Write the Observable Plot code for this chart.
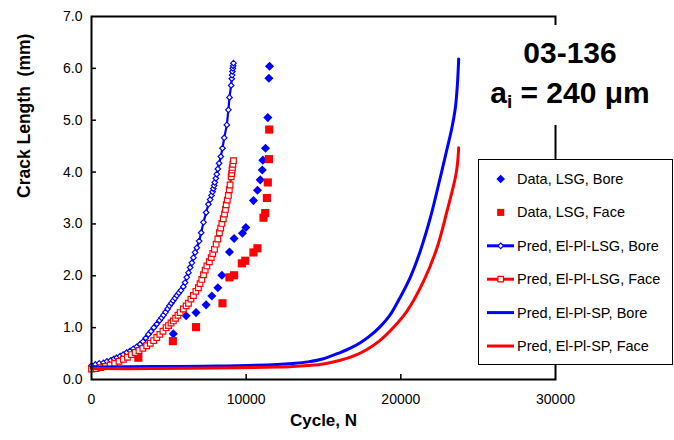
<!DOCTYPE html>
<html><head><meta charset="utf-8">
<script src="https://cdn.jsdelivr.net/npm/d3@7"></script>
<script src="https://cdn.jsdelivr.net/npm/@observablehq/plot@0.6"></script>
<style>
body{margin:0;background:#fff;}
#wrap{position:relative;width:674px;height:440px;font-family:"Liberation Sans",Arial,sans-serif;overflow:hidden;}
#wrap svg text{white-space:pre;}
#title{position:absolute;left:485px;top:25px;width:170px;height:92px;padding-top:8px;background:#fff;text-align:center;font-weight:bold;font-size:30px;line-height:40px;color:#000;}
#title sub{font-size:19px;vertical-align:-5px;line-height:0;}
#legend{position:absolute;left:478px;top:159px;}
</style></head><body>
<div id="wrap"><div id="chart"></div>
<div id="title">03-136<br>a<sub>i</sub> = 240 μm</div>
<div id="legend"></div></div>
<script>
// ---- data (cycles N, crack length mm) ----
const xTicks = [0, 10000, 20000, 30000];
const yTicks = [0, 1, 2, 3, 4, 5, 6, 7];

const dataLsgBore = [[5290,0.88],[6120,1.23],[6760,1.29],[7410,1.44],[7780,1.61],[8170,1.77],[8430,2.01],[8920,2.46],[9220,2.72],[9760,2.82],[9980,2.93],[10470,3.45],[10730,3.65],[10910,3.85],[11040,4.04],[11080,4.23],[11250,4.46],[11400,5.05],[11470,5.81],[11510,6.04]];
const dataLsgFace = [[3030,0.42],[5260,0.74],[6760,1.01],[8470,1.47],[8920,1.97],[9220,2.01],[9720,2.24],[9940,2.29],[10470,2.45],[10730,2.53],[11120,3.12],[11230,3.21],[11340,3.50],[11400,3.80],[11470,4.25],[11490,4.82]];

const predLsgBore = [[0,0.27],[250,0.29],[500,0.31],[770,0.32],[1000,0.35],[1250,0.37],[1450,0.40],[1630,0.42],[1850,0.45],[2050,0.48],[2270,0.52],[2490,0.55],[2700,0.59],[2920,0.63],[3140,0.68],[3330,0.73],[3510,0.80],[3680,0.87],[3850,0.93],[4030,1.00],[4220,1.07],[4400,1.14],[4530,1.19],[4650,1.24],[4790,1.30],[4920,1.36],[5040,1.42],[5160,1.47],[5280,1.52],[5400,1.57],[5520,1.62],[5650,1.67],[5780,1.72],[5940,1.79],[6050,1.87],[6160,1.97],[6270,2.06],[6380,2.16],[6490,2.25],[6590,2.35],[6700,2.45],[6810,2.54],[6960,2.67],[7090,2.83],[7240,3.03],[7410,3.22],[7560,3.38],[7670,3.47],[7760,3.55],[7830,3.62],[7880,3.68],[7930,3.74],[7970,3.80],[8040,3.88],[8100,3.96],[8170,4.06],[8250,4.17],[8360,4.30],[8470,4.46],[8580,4.66],[8750,4.91],[8850,5.20],[8920,5.44],[9030,5.67],[9070,5.80],[9090,5.87],[9110,5.94],[9140,6.00],[9160,6.05],[9180,6.10]];
const predLsgFace = [[0,0.20],[300,0.21],[600,0.23],[900,0.25],[1200,0.28],[1500,0.31],[1780,0.35],[2060,0.39],[2320,0.43],[2580,0.48],[2820,0.52],[3070,0.56],[3320,0.60],[3570,0.65],[3800,0.70],[4020,0.75],[4220,0.81],[4420,0.87],[4620,0.93],[4820,1.00],[4980,1.04],[5140,1.09],[5290,1.13],[5440,1.18],[5590,1.24],[5730,1.29],[5940,1.36],[6120,1.42],[6270,1.47],[6430,1.55],[6590,1.62],[6750,1.70],[6910,1.77],[7020,1.85],[7130,1.93],[7240,2.02],[7350,2.11],[7460,2.19],[7620,2.27],[7740,2.35],[7840,2.43],[7950,2.51],[8060,2.61],[8170,2.71],[8270,2.83],[8350,2.92],[8430,3.01],[8520,3.10],[8600,3.19],[8660,3.28],[8710,3.37],[8780,3.46],[8850,3.55],[8910,3.66],[8960,3.75],[9030,3.91],[9070,3.97],[9090,4.04],[9110,4.09],[9140,4.15],[9180,4.22]];

const predSpBore = [[0,0.24],[4000,0.25],[8000,0.26],[12000,0.29],[13000,0.31],[14000,0.34],[15000,0.40],[16080,0.52],[16700,0.60],[17380,0.71],[18000,0.84],[18670,1.02],[19250,1.22],[19750,1.47],[20610,1.97],[21260,2.48],[21910,3.12],[22450,3.77],[22990,4.45],[23300,4.85],[23530,5.25],[23660,5.70],[23740,6.18]];
const predSpFace = [[0,0.21],[4000,0.21],[8000,0.22],[12000,0.24],[13000,0.25],[14000,0.27],[15000,0.30],[16080,0.37],[17000,0.46],[17810,0.58],[18600,0.74],[19320,0.94],[20400,1.32],[21480,1.90],[22340,2.54],[22990,3.25],[23530,3.90],[23660,4.15],[23740,4.47]];

const legendLabels = ["Data, LSG, Bore","Data, LSG, Face","Pred, El-Pl-LSG, Bore","Pred, El-Pl-LSG, Face","Pred, El-Pl-SP, Bore","Pred, El-Pl-SP, Face"];
const legendColors = ["#0000ff","#ff0000","#0000ff","#ff0000","#0000ff","#ff0000"];
const legendSymbols = ["diamond","square","odiamond","osquare",null,null];
const legendLines = [false,false,true,true,true,true];

const BLUE = "#0000ff", RED = "#ff0000";
const X = d => d[0], Y = d => d[1];

const chart = Plot.plot({
  width: 674, height: 440,
  marginLeft: 91, marginRight: 119, marginTop: 16, marginBottom: 61,
  style: {fontFamily: "Liberation Sans, Arial, sans-serif", fontSize: "14px", color: "black", background: "white", overflow: "visible"},
  x: {domain: [0, 30000]},
  y: {domain: [0, 7]},
  marks: [
    Plot.axisX(xTicks, {tickSize: 0, tickPadding: 15, tickFormat: d3.format("d"), label: null}),
    Plot.axisY(yTicks, {tickSize: 0, tickPadding: 9, tickFormat: d3.format(".1f"), label: null}),
    Plot.tickX(xTicks.slice(1, -1), {x: d => d, insetTop: 358, stroke: "black", strokeWidth: 1.5}),
    Plot.tickY(yTicks.slice(1, -1), {y: d => d, insetRight: 459, stroke: "black", strokeWidth: 1.5}),
    Plot.dot(dataLsgBore, {x: X, y: Y, symbol: "diamond2", r: 4.1, fill: BLUE}),
    Plot.dot(dataLsgFace, {x: X, y: Y, symbol: "square", r: 4.6, fill: RED}),
    Plot.line(predLsgBore, {x: X, y: Y, stroke: BLUE, strokeWidth: 2.2}),
    Plot.dot(predLsgBore, {x: X, y: Y, symbol: "diamond2", r: 2.5, fill: "white", stroke: BLUE, strokeWidth: 1.2}),
    Plot.line(predLsgFace, {x: X, y: Y, stroke: RED, strokeWidth: 2.2}),
    Plot.dot(predLsgFace, {x: X, y: Y, symbol: "square", r: 3.2, fill: "white", stroke: RED, strokeWidth: 1.2}),
    Plot.line(predSpBore, {x: X, y: Y, stroke: BLUE, strokeWidth: 3, curve: "catmull-rom"}),
    Plot.line(predSpFace, {x: X, y: Y, stroke: RED, strokeWidth: 3, curve: "catmull-rom"}),
    Plot.frame({stroke: "black", strokeWidth: 2}),
    Plot.text(["Cycle, N"], {text: d => d, frameAnchor: "bottom", dy: 46, fontWeight: "bold", fontSize: 17}),
    Plot.text(["Crack Length  (mm)"], {text: d => d, frameAnchor: "left", dx: -67, rotate: -90, fontWeight: "bold", fontSize: 17.5})
  ]
});
document.getElementById("chart").appendChild(chart);

// legend
const lw = 195, lh = 206;
const lg = d3.select("#legend").append("svg").attr("width", lw).attr("height", lh)
  .style("font-family", "Liberation Sans, Arial, sans-serif");
lg.append("rect").attr("x", 0.5).attr("y", 0.5).attr("width", lw - 1).attr("height", lh - 1)
  .attr("fill", "white").attr("stroke", "black").attr("stroke-width", 1);
legendLabels.forEach((lab, i) => {
  const y = 20 + i * 33.4;
  const g = lg.append("g").attr("transform", `translate(0,${y})`);
  const c = legendColors[i];
  if (legendLines[i]) g.append("line").attr("x1", 9).attr("x2", 36).attr("y1", 0).attr("y2", 0)
    .attr("stroke", c).attr("stroke-width", 3);
  const s = legendSymbols[i];
  if (s) {
    const isD = s.includes("diamond");
    const open = s.startsWith("o");
    const size = open ? (isD ? 20 : 30) : (isD ? 48 : 50);
    g.append("path").attr("transform", "translate(22.7,0)")
      .attr("d", d3.symbol(isD ? d3.symbolDiamond2 : d3.symbolSquare, size)())
      .attr("fill", open ? "white" : c).attr("stroke", open ? c : "none").attr("stroke-width", 1.2);
  }
  g.append("text").attr("x", 39).attr("dy", "0.35em").attr("font-size", 14.5).text(lab);
});
</script>
</body></html>
